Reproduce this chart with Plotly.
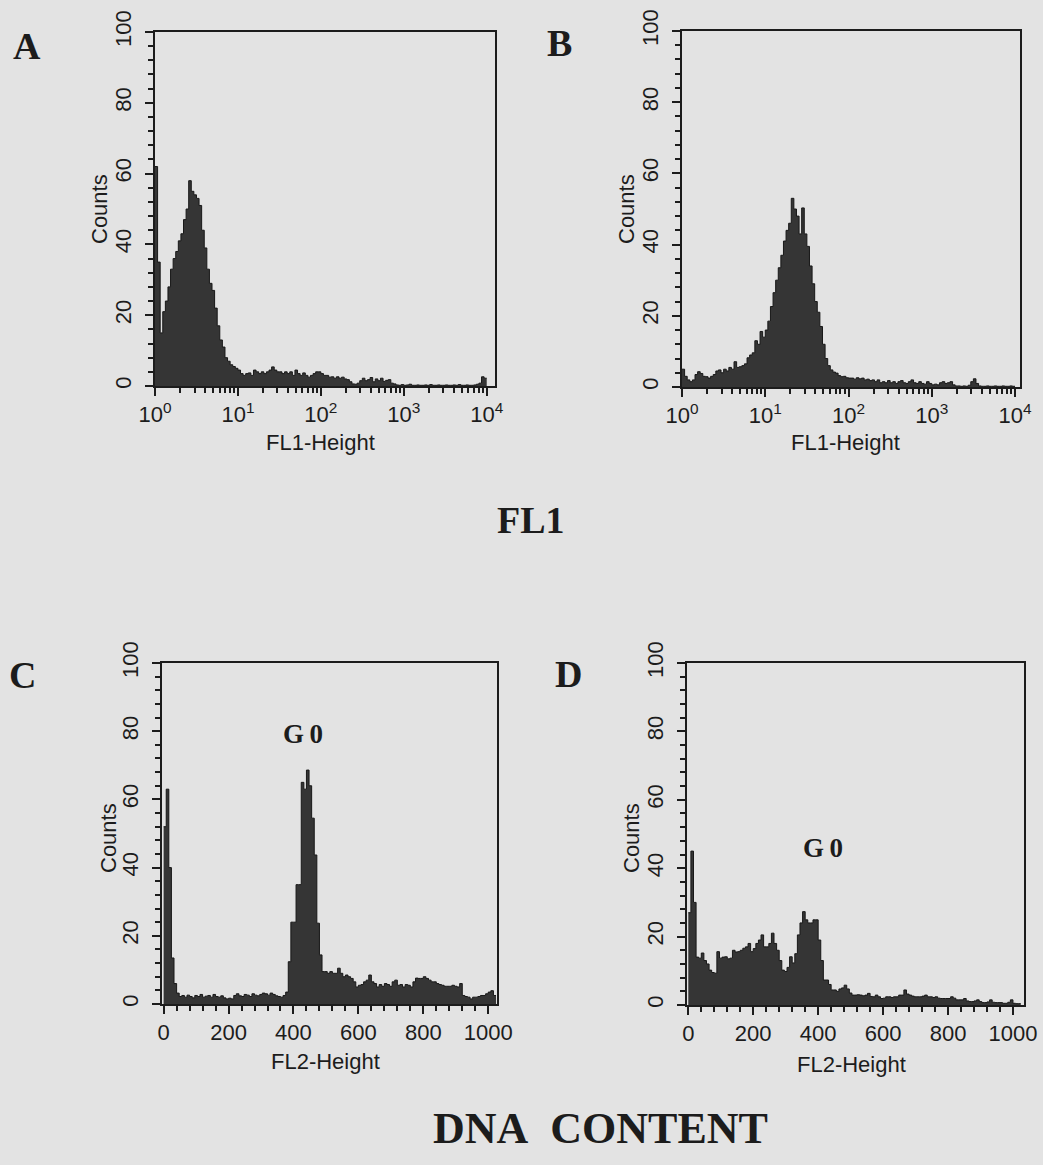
import numpy as np
import plotly.graph_objects as go

# ---- histogram data (counts per bin) ----
# FL1 panels: 128 log bins spanning 10^0 .. 10^4 (32 bins per decade)
A_COUNTS = [62, 35, 15, 21, 24, 28, 33, 36, 38, 41,
            43, 47, 50, 58, 55, 54, 53, 51, 44, 39,
            33, 29, 27, 22, 17, 13, 11, 8, 7, 6,
            5.5, 5, 4.5, 3.5, 3, 3.5, 3.7, 3, 4.5, 4,
            3.5, 4, 3.5, 4, 4.5, 5.4, 4.5, 4, 4, 3.5,
            4, 3.5, 4, 3, 4.5, 3.5, 3, 3.7, 3, 2.5,
            3, 3.5, 4, 4, 3.5, 3, 3, 2.5, 2.6, 2.2,
            2.6, 2.2, 2.5, 2, 1.8, 1.2, 0.6, 0.5, 0.8, 1.5,
            2.2, 1.5, 1.8, 2.4, 1.2, 2, 1.5, 2.2, 1.3, 1.6,
            1.8, 0.8, 0.6, 0.3, 0.2, 0.4, 0.2, 0.3, 0.5, 0.2,
            0.2, 0.3, 0.2, 0.2, 0.3, 0.2, 0.4, 0.2, 0.2, 0.3,
            0.2, 0.2, 0.3, 0.2, 0.2, 0.3, 0.2, 0.4, 0.2, 0.2,
            0.3, 0.2, 0.2, 0.3, 0.5, 0.8, 2.6, 2.2]

B_COUNTS = [5, 3, 2, 1.5, 2, 3.5, 4.3, 3.8, 3, 2.9,
            2.5, 3, 3.5, 4.5, 4.8, 4, 5, 4.5, 5.5, 5,
            7.1, 5.5, 5.7, 6, 6.5, 8.2, 9, 9.6, 13, 12,
            15.6, 14, 16, 18.5, 22.6, 26.5, 30, 33.5, 37, 41,
            44, 46, 53, 50, 48, 43, 50.3, 43, 39.5, 34,
            29, 24, 21, 17, 12, 8, 6, 4.8, 4.2, 3.9,
            3.2, 2.9, 3, 2.6, 2.5, 2.5, 2.2, 2.6, 2.3, 2.5,
            2, 2.2, 1.8, 2, 1.5, 2, 1.2, 1.5, 1.2, 1.8,
            1.2, 1.5, 1, 1.5, 1.8, 1.2, 1, 1.5, 2, 1.2,
            1, 1.5, 1, 0.8, 1.5, 1, 0.6, 0.8, 0.6, 1.2,
            1.5, 1, 1.2, 1.5, 0.6, 0.3, 0.3, 0.2, 0.3, 0.2,
            0.5, 1.5, 2.3, 1, 0.3, 0.2, 0.2, 0.3, 0.2, 0.2,
            0.3, 0.2, 0.2, 0.3, 0.2, 0.2, 0.3, 0.2]

# FL2 (DNA content) panels: 128 linear bins of 8 channels (0 .. 1024)
C_COUNTS = [52, 63, 40, 13.5, 6, 3.2, 2.2, 2.5, 2, 2.6,
            2.2, 1.8, 2.5, 2.2, 2.8, 2, 2.3, 2.5, 2, 2.8,
            2.2, 2, 2.4, 1.8, 1.5, 1.7, 1.5, 2.5, 3, 2.4,
            2.2, 2.8, 2.6, 2.2, 3, 2.6, 2.4, 2.8, 3.2, 3,
            2.6, 3.2, 2.8, 2.4, 2.2, 2, 2.5, 3.5, 12.4, 24,
            24, 35, 35, 65, 63, 68.6, 64, 54.5, 43.7, 23.7,
            14.4, 9.5, 9.5, 9, 9.5, 9, 9, 10.5, 9, 8,
            8.5, 8, 7.5, 6.5, 5, 5.5, 5.7, 6.5, 7, 8.5,
            6.5, 6, 5, 5.7, 5.2, 6, 5.7, 5.2, 6.5, 7,
            5.5, 5.7, 5, 5.7, 5.5, 5, 6.5, 7.6, 7.5, 7.5,
            8, 7.5, 7, 6.5, 6.5, 6, 5.7, 5.5, 5.2, 5.2,
            5.2, 5.5, 5.2, 5, 6, 2.5, 2.2, 2, 1.5, 2,
            2, 2.2, 2.5, 2.5, 3, 3.5, 3.9, 2.5]

D_COUNTS = [27, 45, 30, 14, 13.7, 15.2, 13, 12, 10.2, 9.5,
            9.3, 15.6, 13.7, 14, 14.1, 13.5, 13.7, 16, 15.5, 15.6,
            16, 16.6, 17, 18, 15.6, 16.5, 18, 19, 20.5, 17,
            17, 18, 21, 18, 16, 13, 10.2, 9.8, 11, 14.1,
            12.3, 15, 20.5, 24, 27.3, 24.9, 24, 24, 24.9, 24.9,
            19, 13, 7.3, 7.3, 6, 4.4, 4.4, 4, 4.7, 5,
            5.8, 4.7, 3.5, 2.9, 2.9, 3, 2.9, 2.7, 2.9, 3.4,
            2.5, 2.4, 2.9, 2.4, 1.9, 2, 2.4, 2.4, 2.2, 2.4,
            2.4, 2.9, 2.9, 4.4, 3.2, 2.9, 2.6, 2.4, 2.4, 2.4,
            2.6, 2.9, 2.4, 2.4, 2.2, 2.4, 2, 1.9, 1.9, 1.9,
            1.9, 2.4, 2, 1.5, 1.5, 1.5, 1.9, 1.2, 1, 1,
            1.2, 1.5, 1, 0.7, 0.7, 0.9, 1.5, 0.8, 0.7, 0.7,
            0.7, 0.5, 0.5, 0.8, 1.5, 0.5, 0.4, 0.4]

LOG_TICKS = [1, 10, 100, 1000, 10000]
LOG_TICK_TEXT = ["10<sup>0</sup>", "10<sup>1</sup>", "10<sup>2</sup>",
                 "10<sup>3</sup>", "10<sup>4</sup>"]
LIN_TICKS = [0, 200, 400, 600, 800, 1000]
COUNT_TICKS = [0, 20, 40, 60, 80, 100]

BG = "#e3e3e3"
INK = "#1c1c1c"
FILL = "#353535"
SANS = "Liberation Sans, Arial, sans-serif"
SERIF = "Liberation Serif, Times New Roman, serif"

W, H = 1043, 1165


def px(x):
    return x / W


def py(y):
    return 1 - y / H


def step_trace(edges, counts, xa, ya):
    ys = list(counts) + [counts[-1]]
    return go.Scatter(x=edges, y=ys, mode="lines", line_shape="hv",
                      line=dict(color="#181818", width=1),
                      fill="tozeroy", fillcolor=FILL,
                      xaxis=xa, yaxis=ya, showlegend=False, hoverinfo="skip")


log_edges = 10 ** (np.arange(len(A_COUNTS) + 1) / 32)
lin_edges = np.arange(len(C_COUNTS) + 1) * 8

fig = go.Figure()
fig.add_trace(step_trace(log_edges, A_COUNTS, "x", "y"))
fig.add_trace(step_trace(log_edges, B_COUNTS, "x2", "y2"))
fig.add_trace(step_trace(lin_edges, C_COUNTS, "x3", "y3"))
fig.add_trace(step_trace(lin_edges, D_COUNTS, "x4", "y4"))

tick_font = dict(family=SANS, size=22, color=INK)
axis_common = dict(showline=True, linecolor=INK, linewidth=2, mirror=True,
                   showgrid=False, zeroline=False, ticks="outside",
                   tickcolor=INK, tickwidth=2, ticklen=8, automargin=False,
                   tickfont=tick_font, fixedrange=True)


def log_x(domain, rng, anchor):
    return dict(axis_common, type="log", domain=domain, range=rng, anchor=anchor,
                tickmode="array", tickvals=LOG_TICKS, ticktext=LOG_TICK_TEXT,
                ticklabelstandoff=0,
                minor=dict(ticks="outside", ticklen=5, tickwidth=1.5,
                           tickcolor=INK, dtick="D1"))


def lin_x(domain, rng, anchor):
    return dict(axis_common, domain=domain, range=rng, anchor=anchor,
                tickmode="array", tickvals=LIN_TICKS, ticklabelstandoff=0,
                minor=dict(ticks="outside", ticklen=5, tickwidth=1.5,
                           tickcolor=INK, dtick=40, tick0=0))


def count_y(domain, anchor):
    return dict(axis_common, domain=domain, range=[0, 100], anchor=anchor,
                tickmode="array", tickvals=COUNT_TICKS, tickangle=-90,
                ticklabelstandoff=5,
                minor=dict(ticks="outside", ticklen=5, tickwidth=1.5,
                           tickcolor=INK, dtick=4, tick0=0))


fig.update_layout(
    template="none",
    width=W, height=H,
    margin=dict(l=0, r=0, t=0, b=0, pad=0, autoexpand=False),
    paper_bgcolor=BG, plot_bgcolor=BG,
    showlegend=False,
    xaxis=log_x([px(155), px(495)], [0, 4.1], "y"),
    yaxis=count_y([py(386), py(32)], "x"),
    xaxis2=log_x([px(682), px(1020)], [0, 4.06], "y2"),
    yaxis2=count_y([py(387), py(31)], "x2"),
    xaxis3=lin_x([px(162), px(497)], [-5, 1027], "y3"),
    yaxis3=count_y([py(1004), py(663)], "x3"),
    xaxis4=lin_x([px(687), px(1024)], [-4, 1034], "y4"),
    yaxis4=count_y([py(1005), py(663)], "x4"),
)


def label(text, x, y, size, family=SANS, bold=False, angle=0):
    t = f"<b>{text}</b>" if bold else text
    fig.add_annotation(text=t, x=px(x), y=py(y), xref="paper", yref="paper",
                       xanchor="center", yanchor="middle", showarrow=False,
                       textangle=angle,
                       font=dict(family=family, size=size, color=INK))


# axis titles
for cx, cy in [(99, 209), (626, 209), (108, 838), (631, 838)]:
    label("Counts", cx, cy, 22, angle=-90)
label("FL1-Height", 320, 442, 22)
label("FL1-Height", 845, 442, 22)
label("FL2-Height", 325, 1061, 22)
label("FL2-Height", 851, 1064, 22)

# panel letters
label("A", 27, 46, 38, SERIF, bold=True)
label("B", 559, 43, 38, SERIF, bold=True)
label("C", 22, 675, 38, SERIF, bold=True)
label("D", 568, 674, 38, SERIF, bold=True)

# peak labels
label("G\u20090", 303, 734, 27, SERIF, bold=True)
label("G\u20090", 823, 848, 27, SERIF, bold=True)

# section headings
label("FL1", 531, 520, 38, SERIF, bold=True)
label("DNA&nbsp;&nbsp;CONTENT", 600, 1128, 44, SERIF, bold=True)

fig.write_html("out.html")
